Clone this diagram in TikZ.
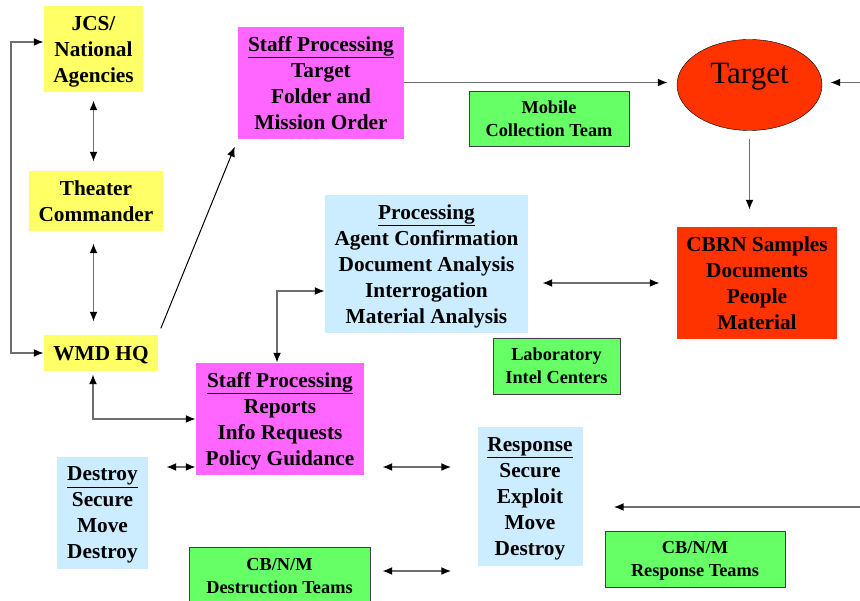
\documentclass[tikz,border=0pt]{standalone}
\usepackage{fontspec}
\setmainfont{Liberation Serif}
\usetikzlibrary{arrows.meta, positioning, shapes.geometric}
\definecolor{boxyellow}{HTML}{FFFF66}
\definecolor{boxmagenta}{HTML}{FF66FF}
\definecolor{boxblue}{HTML}{CCECFF}
\definecolor{boxgreen}{HTML}{66FF66}
\definecolor{boxred}{HTML}{FF3300}
\definecolor{linegray}{HTML}{6E6E6E}

\begin{document}
\begin{tikzpicture}[
    x=1pt, y=-1pt,
    every node/.style={align=center, inner sep=0pt, text depth=-3pt, font=\bfseries\fontsize{21.3}{26}\selectfont},
    ybox/.style={fill=boxyellow},
    mbox/.style={fill=boxmagenta},
    bbox/.style={fill=boxblue},
    rbox/.style={fill=boxred},
    gbox/.style={fill=boxgreen, draw=black!75, font=\bfseries\fontsize{18.3}{23}\selectfont},
    tgt/.style={ellipse, fill=boxred, draw=black, thin, text depth=24pt, minimum width=145pt, minimum height=91pt, font=\fontsize{31}{36}\selectfont},
    arrow/.style={-{Latex[length=10pt,width=8pt,color=black]}, draw=linegray, line width=1.8pt},
    dblarrow/.style={{Latex[length=10pt,width=8pt,color=black]}-{Latex[length=10pt,width=8pt,color=black]}, draw=linegray, line width=1.8pt},
    thinarrow/.style={-{Latex[length=10pt,width=8pt]}, draw=black, line width=1pt}
]
\useasboundingbox (0,0) rectangle (860,601);

% Nodes
\node[ybox, minimum width=99pt, minimum height=86pt] (JCS) at (93.5,49) {JCS/\\ National\\ Agencies};
\node[ybox, minimum width=134pt, minimum height=60pt] (TC) at (96,201) {Theater\\ Commander};
\node[ybox, minimum width=114pt, minimum height=36pt] (HQ) at (101,353) {WMD HQ};
\node[mbox, minimum width=166pt, minimum height=112pt] (SPa) at (321,83) {\underline{Staff Processing}\\ Target\\ Folder and\\ Mission Order};
\node[tgt] (Tgt) at (749.5,85) {Target};
\node[gbox, minimum width=160pt, minimum height=55pt] (MCT) at (549,118.5) {Mobile\\ Collection Team};
\node[bbox, minimum width=203pt, minimum height=138pt] (Proc) at (426.5,264) {\underline{Processing}\\ Agent Confirmation\\ Document Analysis\\ Interrogation\\ Material Analysis};
\node[rbox, minimum width=160pt, minimum height=112pt] (CBRN) at (757,283) {CBRN Samples\\ Documents\\ People\\ Material};
\node[gbox, minimum width=127pt, minimum height=56pt] (Lab) at (556.5,366) {Laboratory\\ Intel Centers};
\node[mbox, minimum width=168pt, minimum height=112pt] (SPb) at (280,419) {\underline{Staff Processing}\\ Reports\\ Info Requests\\ Policy Guidance};
\node[bbox, minimum width=91pt, minimum height=112pt] (Dst) at (102.5,513) {\underline{Destroy}\\ Secure\\ Move\\ Destroy};
\node[bbox, minimum width=105pt, minimum height=139pt] (Resp) at (530,496.5) {\underline{Response}\\ Secure\\ Exploit\\ Move\\ Destroy};
\node[gbox, minimum width=181pt, minimum height=57pt] (DT) at (279.5,575.5) {CB/N/M\\ Destruction Teams};
\node[gbox, minimum width=180pt, minimum height=56pt] (RT) at (695,559) {CB/N/M\\ Response Teams};

\coordinate (inT) at (860,82.5);
\coordinate (inR) at (860,507);
\coordinate (rowA) at (0,467);
\coordinate (rowB) at (0,571);

% Arrows
\draw[dblarrow] ([yshift=7pt]JCS.west) -- ++(-33,0) |- (HQ.west);
\draw[dblarrow, shorten <=8pt, shorten >=9pt] (JCS.south) -- (JCS.south |- TC.north);
\draw[dblarrow, shorten <=12pt, shorten >=13pt] (JCS.south |- TC.south) -- (JCS.south |- HQ.north);
\draw[thinarrow, shorten <=7pt, shorten >=8pt] (HQ.north east) -- (SPa.south west);
\draw[arrow, shorten >=9pt] (SPa.east |- inT) -- (Tgt.west |- inT);
\draw[arrow, shorten >=8pt] (inT) -- (Tgt.east |- inT);
\draw[arrow, shorten <=8pt, shorten >=17pt] (Tgt.south) -- (Tgt.south |- CBRN.north);
\draw[dblarrow, shorten <=14pt, shorten >=17pt] (Proc.east |- CBRN.west) -- (CBRN.west);
\draw[dblarrow] ([xshift=-3pt]SPb.north) |- ([yshift=-27pt]Proc.west);
\draw[dblarrow, shorten <=3pt] ([xshift=-8pt]HQ.south) |- (SPb.west);
\draw[dblarrow, shorten <=18pt] (Dst.east |- rowA) -- (SPb.west |- rowA);
\draw[dblarrow, shorten <=18pt, shorten >=26pt] (SPb.east |- rowA) -- (Resp.west |- rowA);
\draw[dblarrow, shorten <=12pt, shorten >=26pt] (DT.east |- rowB) -- (Resp.west |- rowB);
\draw[arrow, shorten >=31pt] (inR) -- (Resp.east |- inR);

\end{tikzpicture}
\end{document}
